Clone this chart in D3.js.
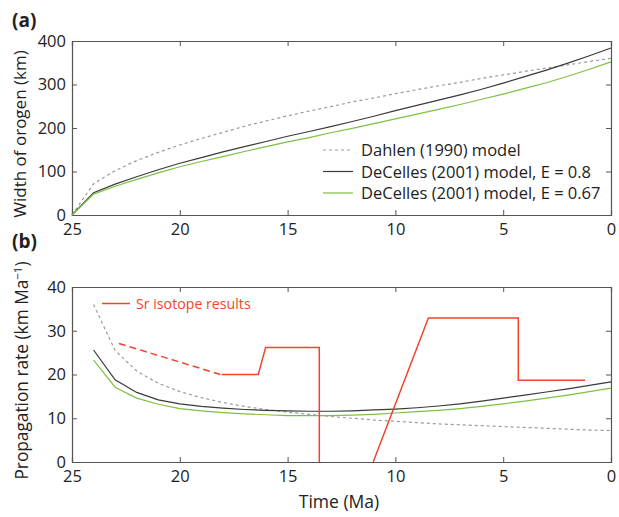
<!DOCTYPE html>
<html>
<head>
<meta charset="utf-8">
<script src="https://cdn.jsdelivr.net/npm/d3@7"></script>
<style>
  body { margin: 0; background: #fff; }
  svg text { font-family: "Open Sans", "Noto Sans", sans-serif; fill: #222; }
</style>
</head>
<body>
<div id="graph"></div>
<script>
// constants for graphing
var width = 619,
    height = 517;

// time axis (Ma), 25 -> 0 at 1 Ma steps
var times = [25,24,23,22,21,20,19,18,17,16,15,14,13,12,11,10,9,8,7,6,5,4,3,2,1,0];
var xticks = [25, 20, 15, 10, 5, 0];

// (a) width of orogen (km)
var dahlenWidth = [0,72,102,125,144,161,176,190,204,216,228,239,249,260,269,279,288,297,305,314,322,330,338,345,353,360];
var decelles08Width = [0,51,71,88,104,119,132,145,157,169,181,192,203,215,227,240,252,264,276,289,303,318,333,349,366,384];
var decelles067Width = [0,48,66,82,97,111,123,134,146,157,168,178,189,199,210,221,232,243,254,266,278,291,304,319,335,352];
var widthTicks = [0, 100, 200, 300, 400];

// (b) propagation rate (km/Ma), 24 -> 0
var rateTimes = [24,23,22,21,20,19,18,17,16,15,14,13,12,11,10,9,8,7,6,5,4,3,2,1,0];
var dahlenRate = [36.0,25.5,20.8,18.0,16.1,14.7,13.6,12.7,12.0,11.4,10.9,10.4,10.0,9.6,9.3,9.0,8.7,8.5,8.3,8.1,7.9,7.7,7.5,7.3,7.2];
var decelles08Rate = [25.6,18.8,15.9,14.2,13.3,12.7,12.3,12.0,11.8,11.7,11.6,11.6,11.7,11.9,12.1,12.4,12.8,13.3,13.9,14.6,15.3,16.0,16.7,17.5,18.3];
var decelles067Rate = [23.3,17.1,14.6,13.2,12.2,11.7,11.3,11.0,10.8,10.6,10.6,10.6,10.7,10.9,11.2,11.5,11.8,12.2,12.7,13.3,13.9,14.6,15.3,16.1,16.9];
var rateTicks = [0, 10, 20, 30, 40];

// Sr isotope results (time, rate)
var srDashed = [[22.82,27.1],[18.06,19.9]];
var srSolid1 = [[18.06,20.0],[16.36,20.0],[16.02,26.2],[13.53,26.2],[13.53,0]];
var srSolid2 = [[11.03,0],[8.47,32.9],[4.30,32.9],[4.30,18.7],[1.2,18.7]];

var legendA = ["Dahlen (1990) model", "DeCelles (2001) model, E = 0.8", "DeCelles (2001) model, E = 0.67"];

// styles
var colDahlen = "#9a9a9a", colDec08 = "#3a3a3a", colDec067 = "#7dc142", colSr = "#f2442c";
var frameCol = "#555";

var svg = d3.select("#graph").append("svg")
    .attr("width", width)
    .attr("height", height);

var x = d3.scaleLinear().domain([25, 0]).range([72, 611]);
var yA = d3.scaleLinear().domain([0, 400]).range([215, 41]);
var yB = d3.scaleLinear().domain([0, 40]).range([462, 287]);

/**
 * draws the box with inward ticks on every side
 */
function frame(y, yt) {
    var g = svg.append("g");
    var x0 = x.range()[0], x1 = x.range()[1];
    var y0 = y.range()[0], y1 = y.range()[1];
    g.append("g").attr("transform", "translate(0," + y0 + ")")
        .call(d3.axisBottom(x).tickValues(xticks).tickSize(-5).tickPadding(8).tickFormat(d3.format("d")));
    g.append("g").attr("transform", "translate(0," + y1 + ")")
        .call(d3.axisTop(x).tickValues(xticks).tickSize(-5).tickFormat(""));
    g.append("g").attr("transform", "translate(" + x0 + ",0)")
        .call(d3.axisLeft(y).tickValues(yt).tickSize(-5).tickPadding(6));
    g.append("g").attr("transform", "translate(" + x1 + ",0)")
        .call(d3.axisRight(y).tickValues(yt).tickSize(-5).tickFormat(""));
    g.selectAll(".domain").attr("stroke", frameCol).attr("stroke-width", 1.2);
    g.selectAll(".tick line").attr("stroke", frameCol);
    g.selectAll(".tick text").attr("font-size", 16.5).attr("fill", "#222")
        .attr("font-family", "'Open Sans', sans-serif");
    return g;
}

frame(yA, widthTicks);
frame(yB, rateTicks);

function drawPts(yScale, pts, color, dash, w) {
    var line = d3.line().x(function(d) { return x(d[0]); }).y(function(d) { return yScale(d[1]); });
    svg.append("path").datum(pts)
        .attr("d", line)
        .attr("fill", "none")
        .attr("stroke", color)
        .attr("stroke-width", w || 1.2)
        .attr("stroke-dasharray", dash || null);
}

function drawLine(yScale, xs, ys, color, dash) {
    var pts = xs.map(function(t, i) { return [t, ys[i]]; });
    drawPts(yScale, pts, color, dash, 1.2);
}

// panel (a)
drawLine(yA, times, dahlenWidth, colDahlen, "3,3");
drawLine(yA, times, decelles08Width, colDec08);
drawLine(yA, times, decelles067Width, colDec067);

// panel (b)
drawLine(yB, rateTimes, dahlenRate, colDahlen, "3,3");
drawLine(yB, rateTimes, decelles08Rate, colDec08);
drawLine(yB, rateTimes, decelles067Rate, colDec067);
drawPts(yB, srDashed, colSr, "7,4", 1.5);
drawPts(yB, srSolid1, colSr, null, 1.5);
drawPts(yB, srSolid2, colSr, null, 1.5);

// legend (a)
var legCols = [colDahlen, colDec08, colDec067];
var legDash = ["3,3", null, null];
legendA.forEach(function(txt, i) {
    var ly = 150 + i * 21.5;
    svg.append("line").attr("x1", 323).attr("x2", 353).attr("y1", ly).attr("y2", ly)
        .attr("stroke", legCols[i]).attr("stroke-width", 1.2)
        .attr("stroke-dasharray", legDash[i]);
    svg.append("text").attr("x", 361).attr("y", ly + 6)
        .attr("font-size", 16.5).text(txt);
});

// legend (b)
svg.append("line").attr("x1", 102).attr("x2", 130).attr("y1", 303.5).attr("y2", 303.5)
    .attr("stroke", colSr).attr("stroke-width", 1.5);
svg.append("text").attr("x", 136).attr("y", 308.5).attr("font-size", 14.2)
    .style("fill", colSr).text("Sr isotope results");

// panel labels
svg.append("text").attr("x", 12).attr("y", 27).attr("font-size", 19)
    .attr("font-weight", "bold").text("(a)");
svg.append("text").attr("x", 12).attr("y", 248).attr("font-size", 19)
    .attr("font-weight", "bold").text("(b)");

// axis titles
svg.append("text").attr("text-anchor", "middle")
    .attr("transform", "translate(26," + ((yA.range()[0] + yA.range()[1]) / 2 + 6) + ") rotate(-90)")
    .attr("font-size", 17).text("Width of orogen (km)");

var tb = svg.append("text").attr("text-anchor", "middle")
    .attr("transform", "translate(28," + ((yB.range()[0] + yB.range()[1]) / 2 - 4) + ") rotate(-90)")
    .attr("font-size", 17.3);
tb.append("tspan").text("Propagation rate (km Ma");
tb.append("tspan").attr("font-size", 11.5).attr("dy", -6).text("\u22121");
tb.append("tspan").attr("dy", 6).text(")");

svg.append("text").attr("text-anchor", "middle").attr("x", 339).attr("y", 508)
    .attr("font-size", 17.5).text("Time (Ma)");
</script>
</body>
</html>
